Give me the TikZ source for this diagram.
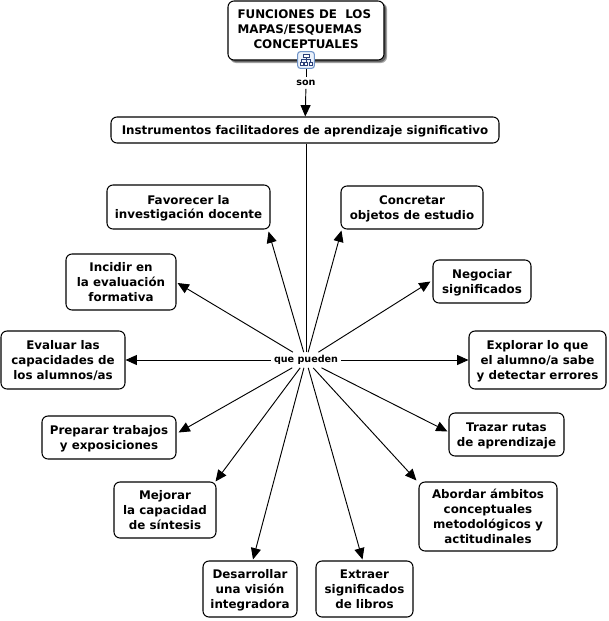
\documentclass[tikz,border=0pt]{standalone}
\usepackage{fontspec}
\setmainfont{DejaVu Sans}
\usetikzlibrary{arrows.meta,calc}
\definecolor{iconedge}{HTML}{6F93C8}
\definecolor{iconfill}{HTML}{EAF1FB}
\definecolor{icondark}{HTML}{2A3F78}
\tikzset{
  cbox/.style={draw=black,line width=0.8pt,rounded corners=4.5pt,fill=white,align=center,font=\fontsize{8.9}{11.2}\selectfont\bfseries,inner sep=0pt,text depth=0pt},
  lbl/.style={font=\fontsize{7.2}{8}\selectfont\bfseries,inner sep=2.2pt},
  conn/.style={draw=black,line width=0.7pt},
  arr/.style={conn,-{Triangle[length=8.5pt,width=7.5pt]}},
}
\newcommand{\cb}[6]{\node[cbox,minimum width=#4*0.75pt-#2*0.75pt,minimum height=#5*0.75pt-#3*0.75pt] (#1) at ({(#2+#4)/2},{(#3+#5)/2}) {#6};}
\begin{document}
\begin{tikzpicture}[x=0.75pt,y=-0.75pt]
\useasboundingbox (0,0) rectangle (608,621);
\fill[white] (0,0) rectangle (608,621);
\fill[black!35,rounded corners=4.5pt] (230,3) rectangle (387,63);
\fill[black!60,rounded corners=4.5pt] (230,3) rectangle (386,62);
\cb{t}{228}{1}{384}{60}{}
\node[cbox,draw=none,fill=none,align=left,anchor=north west] (tt) at (237,9) {FUNCIONES DE~~LOS\\MAPAS/ESQUEMAS\\\hspace*{12pt}CONCEPTUALES};
\cb{ins}{111}{117}{499}{143}{Instrumentos facilitadores de aprendizaje significativo}
\cb{fav}{107}{185}{270}{229}{Favorecer la\\investigación docente}
\cb{con}{341}{186}{483}{229}{Concretar\\objetos de estudio}
\cb{neg}{433}{260}{531}{303}{Negociar\\significados}
\cb{inc}{66}{254}{176}{310}{Incidir en\\la evaluación\\formativa}
\cb{eva}{1}{331}{125}{389}{Evaluar las\\capacidades de\\los alumnos/as}
\cb{exp}{469}{331}{606}{389}{Explorar lo que\\el alumno/a sabe\\y detectar errores}
\cb{pre}{42}{416}{176}{459}{Preparar trabajos\\y exposiciones}
\cb{tra}{449}{413}{564}{456}{Trazar rutas\\de aprendizaje}
\cb{mej}{114}{482}{216}{538}{Mejorar\\la capacidad\\de síntesis}
\cb{abo}{419}{482}{557}{551}{Abordar ámbitos\\conceptuales\\metodológicos y\\actitudinales}
\cb{des}{203}{561}{297}{617}{Desarrollar\\una visión\\integradora}
\cb{ext}{316}{561}{413}{617}{Extraer\\significados\\de libros}
\node[draw=iconedge,fill=iconfill,rounded corners=2pt,line width=0.8pt,minimum size=12.5pt,inner sep=0pt] (ic) at (306,60) {};
\draw[icondark,line width=0.5pt,fill=white] (303,54) rectangle (309,57) (300,62) rectangle (303,65) (304.5,62) rectangle (307.5,65) (309,62) rectangle (312,65);
\draw[icondark,line width=0.4pt] (306,57)--(306,62) (301.5,62)--(301.5,59.5)--(310.5,59.5)--(310.5,62);
\node[lbl] (son) at (306,83) {son};
\node[lbl] (qp) at (306,360) {que pueden};
\draw[conn] (ic) -- (son);
\draw[arr] (son) -- (ins);
\draw[conn] (ins.south -| qp) -- (qp);
\draw[arr] (qp) -- ($(fav.south east)+(-2,2)$);
\draw[arr] (qp) -- ($(con.south west)+(1,1)$);
\draw[arr] (qp) -- ($(neg.west)+(-2,0)$);
\draw[arr] (qp) -- ($(inc.east)+(1,1)$);
\draw[arr] (qp) -- (eva);
\draw[arr] (qp) -- (exp);
\draw[arr] (qp) -- ($(pre.east)+(2,-5)$);
\draw[arr] (qp) -- ($(tra.west)+(-1,-3)$);
\draw[arr] (qp) -- ($(mej.north east)+(-1,0)$);
\draw[arr] (qp) -- ($(abo.north west)+(-2,-1)$);
\draw[arr] (qp) -- ($(des.north)+(3,-1)$);
\draw[arr] (qp) -- ($(ext.north)+(-2,-1)$);
\end{tikzpicture}
\end{document}
